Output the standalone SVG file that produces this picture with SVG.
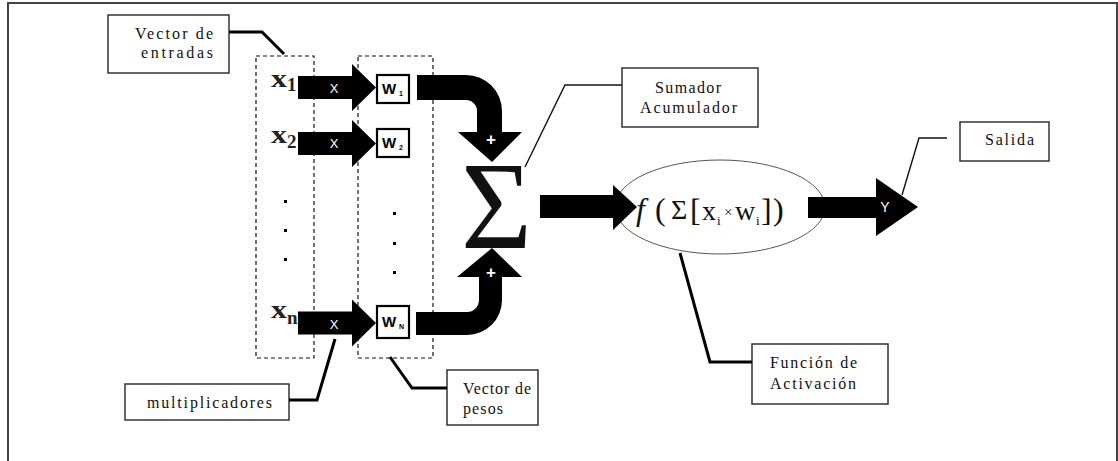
<svg xmlns="http://www.w3.org/2000/svg" width="1118" height="461" viewBox="0 0 1118 461">
  <style>
    .lbl { font-family: "Liberation Serif", "Times New Roman", serif; font-size: 16px; fill: #111; }
    .box { fill: #fff; stroke: #333; stroke-width: 1.5; }
    .dash { fill: none; stroke: #111; stroke-width: 1.2; stroke-dasharray: 4 3; }
    .thick { fill: none; stroke: #000; stroke-width: 3; stroke-linejoin: miter; }
    .thin { fill: none; stroke: #111; stroke-width: 1.4; }
    .blk { fill: #000; }
    .wl { font-family: "Liberation Sans", Arial, sans-serif; fill: #fff; text-anchor: middle; }
    .wbox { fill: #fff; stroke: #000; stroke-width: 2.2; }
    .wt { font-family: "Liberation Sans", Arial, sans-serif; font-weight: bold; fill: #000; }
    .xv { font-family: "Liberation Serif", "Times New Roman", serif; font-weight: bold; fill: #222; }
    .fm { font-family: "Liberation Serif", "Times New Roman", serif; fill: #111; }
    .dot { fill: #000; }
  </style>
  <defs>
    <!-- block arrow: body 0..54, head 54..78 -->
    <path id="mult-arrow" d="M0,-11.5 H54 V-23.5 L78,0 L54,23.5 V11.5 H0 Z"/>
  </defs>

  <rect width="1118" height="461" fill="#fff"/>
  <!-- outer frame -->
  <path d="M8,461 V3 H1117 V461" fill="none" stroke="#444" stroke-width="2"/>

  <!-- dashed groupings -->
  <g id="input-vector">
    <rect class="dash" x="256" y="56" width="58" height="302"/>
    <rect class="dot" x="284" y="200" width="3" height="3"/>
    <rect class="dot" x="284" y="229" width="3" height="3"/>
    <rect class="dot" x="284" y="258" width="3" height="3"/>
    <text class="xv" x="271" y="87" font-size="25" textLength="16" lengthAdjust="spacingAndGlyphs">x</text>
    <text class="xv" x="287" y="91" font-size="19">1</text>
    <text class="xv" x="271" y="143" font-size="25" textLength="16" lengthAdjust="spacingAndGlyphs">x</text>
    <text class="xv" x="287" y="148" font-size="19">2</text>
    <text class="xv" x="271" y="318" font-size="25" textLength="16" lengthAdjust="spacingAndGlyphs">x</text>
    <text class="xv" x="287" y="324" font-size="19">n</text>
  </g>
  <g id="weight-vector">
    <rect class="dash" x="358" y="56" width="75" height="302"/>
    <rect class="dot" x="393" y="212" width="3" height="3"/>
    <rect class="dot" x="393" y="242" width="3" height="3"/>
    <rect class="dot" x="393" y="271" width="3" height="3"/>
  </g>

  <!-- multiplier arrows -->
  <g id="multipliers">
    <use href="#mult-arrow" class="blk" transform="translate(298,87.5)"/>
    <use href="#mult-arrow" class="blk" transform="translate(298,143.5)"/>
    <use href="#mult-arrow" class="blk" transform="translate(298,323)"/>
    <text class="wl" x="334" y="93" font-size="13">X</text>
    <text class="wl" x="334" y="148" font-size="13">X</text>
    <text class="wl" x="334" y="329" font-size="13">X</text>
  </g>

  <!-- weights -->
  <g id="w1">
    <rect class="wbox" x="377" y="75" width="32" height="28"/>
    <text class="wt" x="382" y="94" font-size="15">W</text>
    <text class="wt" x="399" y="96" font-size="7">1</text>
  </g>
  <g id="w2">
    <rect class="wbox" x="377" y="129" width="32" height="28"/>
    <text class="wt" x="382" y="148" font-size="15">W</text>
    <text class="wt" x="399" y="150" font-size="7">2</text>
  </g>
  <g id="wn">
    <rect class="wbox" x="377" y="306" width="32" height="32"/>
    <text class="wt" x="382" y="327" font-size="15">W</text>
    <text class="wt" x="399" y="329" font-size="7">N</text>
  </g>

  <!-- summing junction -->
  <g id="summer">
    <text class="fm" x="461" y="248" font-size="124" textLength="71" lengthAdjust="spacingAndGlyphs">Σ</text>
  </g>

  <!-- activation -->
  <g id="activation">
    <ellipse cx="720" cy="207" rx="105" ry="47" fill="#fff" stroke="#555" stroke-width="1"/>
    <text class="fm" x="636" y="220" font-size="32" font-style="italic">f</text>
    <text class="fm" x="655" y="220" font-size="32">(</text>
    <text class="fm" x="671" y="219" font-size="28">Σ</text>
    <text class="fm" x="690" y="221" font-size="32">[</text>
    <text class="fm" x="702" y="220" font-size="28">x</text>
    <text class="fm" x="717" y="225" font-size="13">i</text>
    <text class="fm" x="724" y="217" font-size="15">×</text>
    <text class="fm" x="735" y="220" font-size="28">w</text>
    <text class="fm" x="756" y="225" font-size="13">i</text>
    <text class="fm" x="761" y="221" font-size="32">]</text>
    <text class="fm" x="773" y="220" font-size="32">)</text>
  </g>

  <!-- callout boxes -->
  <g id="label-entradas">
    <rect class="box" x="108" y="15" width="121" height="58"/>
    <text class="lbl" x="135" y="39" textLength="78" lengthAdjust="spacing">Vector de</text>
    <text class="lbl" x="141" y="58" textLength="72" lengthAdjust="spacing">entradas</text>
  </g>
  <g id="label-multiplicadores">
    <rect class="box" x="125" y="384" width="164" height="36"/>
    <text class="lbl" x="147" y="408" textLength="125" lengthAdjust="spacing">multiplicadores</text>
  </g>
  <g id="label-pesos">
    <rect class="box" x="447" y="370" width="91" height="55"/>
    <text class="lbl" x="463" y="394" textLength="68" lengthAdjust="spacing">Vector de</text>
    <text class="lbl" x="463" y="414" textLength="40" lengthAdjust="spacing">pesos</text>
  </g>
  <g id="label-sumador">
    <rect class="box" x="622" y="68" width="136" height="59"/>
    <text class="lbl" x="655" y="93" textLength="66" lengthAdjust="spacing">Sumador</text>
    <text class="lbl" x="640" y="113" textLength="97" lengthAdjust="spacing">Acumulador</text>
  </g>
  <g id="label-salida">
    <rect class="box" x="960" y="122" width="89" height="39"/>
    <text class="lbl" x="985" y="145" textLength="49" lengthAdjust="spacing">Salida</text>
  </g>
  <g id="label-activacion">
    <rect class="box" x="752" y="344" width="136" height="60"/>
    <text class="lbl" x="770" y="368" textLength="87" lengthAdjust="spacing">Función de</text>
    <text class="lbl" x="770" y="389" textLength="86" lengthAdjust="spacing">Activación</text>
  </g>

  <!-- connectors -->
  <g id="connectors">
    <!-- weighted inputs into the summer -->
    <path class="blk" d="M417,75 H466 A36,36 0 0 1 502,111 V132 H522 L492,162 L458,132 H477 V111 A11,11 0 0 0 466,100 H417 Z"/>
    <path class="blk" d="M416,335 H467 A35,35 0 0 0 502,300 V277 H522 L492,248 L457,277 H479 V300 A12,12 0 0 1 467,312 H416 Z"/>
    <text class="wl" x="491" y="145" font-size="17" font-weight="bold">+</text>
    <text class="wl" x="491" y="278" font-size="17" font-weight="bold">+</text>
    <!-- summer to activation -->
    <path class="blk" d="M540,195 H613 V185 L637,207 L613,230 V218 H540 Z"/>
    <!-- output -->
    <path class="blk" d="M808,197 H876 V178 L918,207 L876,236 V218 H808 Z"/>
    <text class="wl" x="885" y="212" font-size="14">Y</text>

    <!-- callout leaders -->
    <path class="thick" d="M229,32 H262 L284,54"/>
    <path class="thick" d="M289,400 H317 L335,339"/>
    <path class="thick" d="M447,388 H412 L390,357"/>
    <path class="thin" d="M525,167 L565,85 H622"/>
    <path class="thin" d="M902,195 L919,138 H947"/>
    <path class="thick" d="M680,253 L710,362 H752"/>
  </g>
</svg>
